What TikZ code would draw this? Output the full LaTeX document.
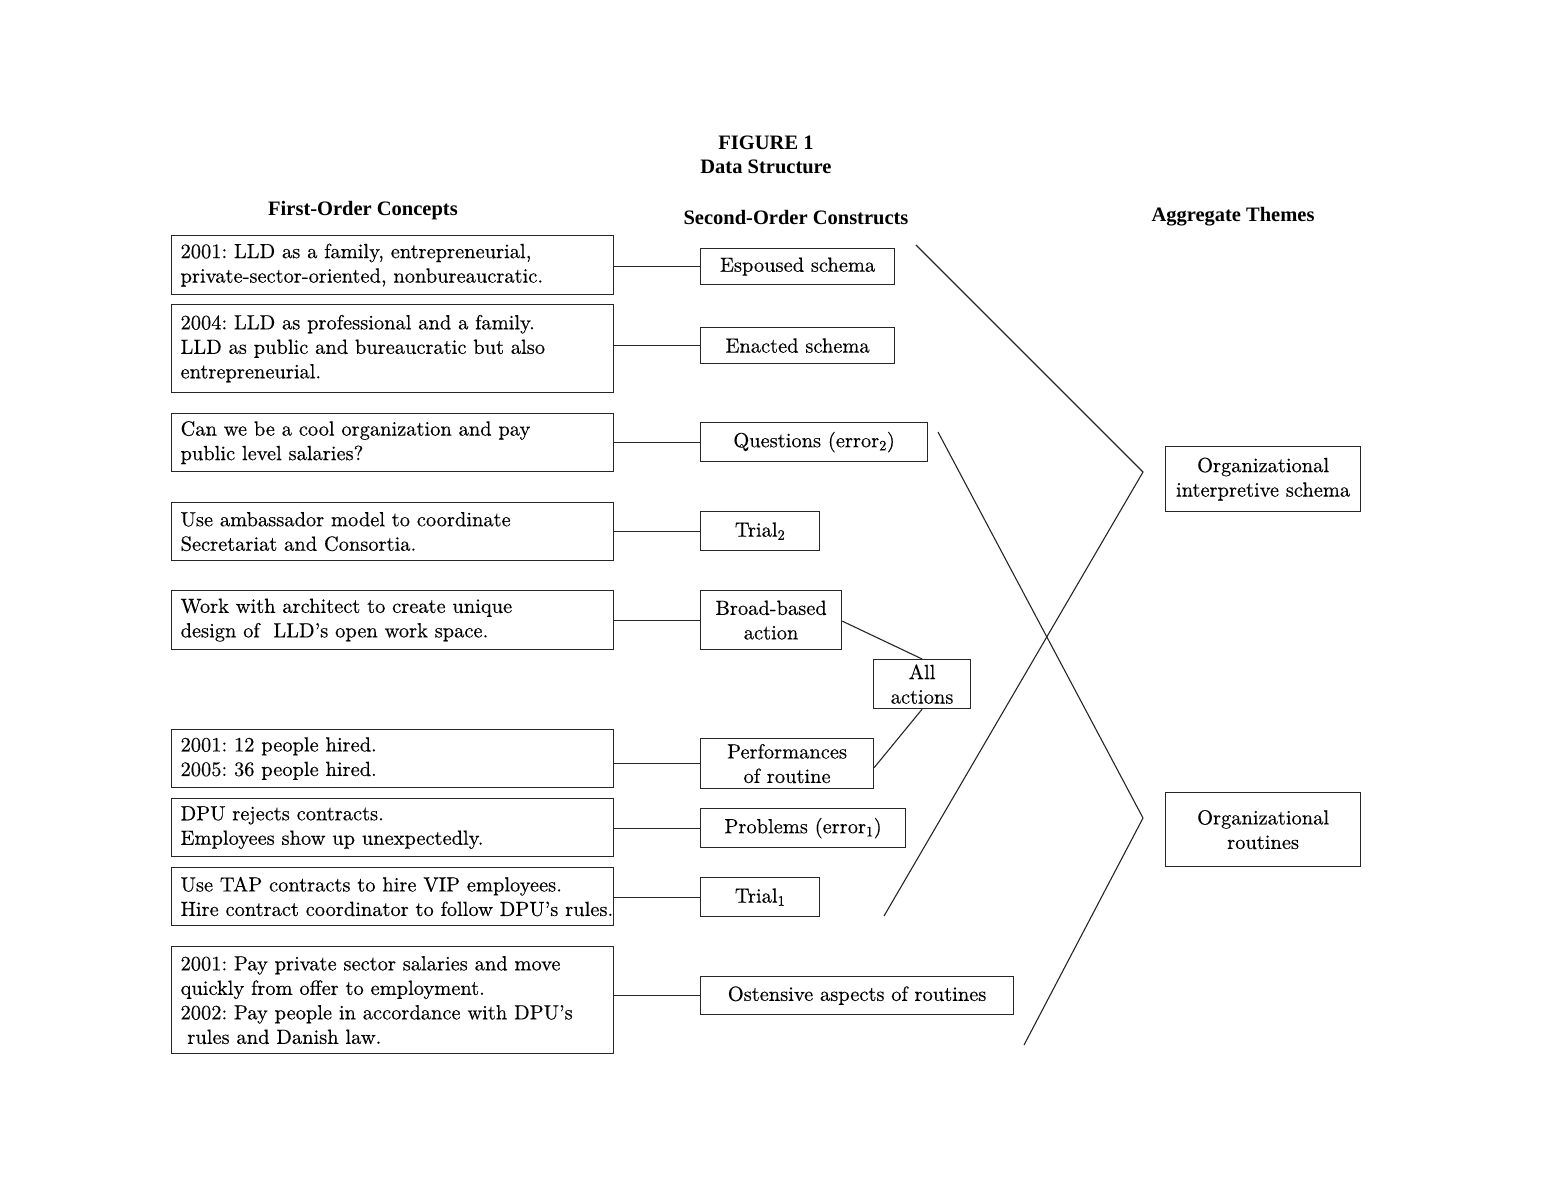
\documentclass[tikz,border=0pt]{standalone}
\usepackage{fontspec}
\newfontfamily\headfont{Liberation Serif}
\newfontfamily\bodyfont{lmroman10}[Extension=.otf,UprightFont=*-regular,
  Ligatures=TeX,FakeStretch=0.998,FakeBold=0.3]
\frenchspacing
\begin{document}
\begin{tikzpicture}[x=1pt,y=-1pt,
  every node/.style={font=\bodyfont\fontsize{20.5}{24.5}\selectfont},
  ink/.style={draw=black!85,line width=1.2pt},
  head/.style={font=\headfont\bfseries\fontsize{20.5}{24}\selectfont,align=center},
  concept/.style={ink,rectangle,anchor=north west,align=left,text width=424pt,
    inner xsep=9pt,inner ysep=0pt,minimum height=#1},
  construct/.style={ink,rectangle,anchor=north west,align=center,inner sep=0pt},
  theme/.style={ink,rectangle,anchor=north west,align=center,inner sep=0pt,
    minimum width=195pt},
  link/.style={draw=black!85,line width=1.1pt}]
\useasboundingbox (0,0) rectangle (1548,1188);

% headings
\node[head] (title) at (766,155) {FIGURE 1\\Data Structure};
\node[head] (h1) at (363,211) {First-Order Concepts};
\node[head] (h2) at (796,218) {Second-Order Constructs};
\node[head] (h3) at (1233,217) {Aggregate Themes};

% first-order concepts
\node[concept=59pt] (c1) at (171,235) {2001: LLD as a family, entrepreneurial,\\private-sector-oriented, nonbureaucratic.};
\node[concept=88pt] (c2) at (171,304) {2004: LLD as professional and a family.\\LLD as public and bureaucratic but also\\entrepreneurial.};
\node[concept=58pt] (c3) at (171,413) {Can we be a cool organization and pay\\public level salaries?};
\node[concept=58pt] (c4) at (171,502) {Use ambassador model to coordinate\\Secretariat and Consortia.};
\node[concept=59pt] (c5) at (171,590) {Work with architect to create unique\\design of\ \ LLD's open work space.};
\node[concept=58pt] (c6) at (171,729) {2001: 12 people hired.\\2005: 36 people hired.};
\node[concept=58pt] (c7) at (171,798) {DPU rejects contracts.\\Employees show up unexpectedly.};
\node[concept=58pt] (c8) at (171,867) {\mbox{Use TAP contracts to hire VIP employees.}\\\mbox{Hire contract coordinator to follow DPU's rules.}};
\node[concept=107pt] (c9) at (171,946) {2001: Pay private sector salaries and move\\quickly from offer to employment.\\\mbox{2002: Pay people in accordance with DPU's}\\\ rules and Danish law.};

% second-order constructs
\node[construct,minimum width=194pt,minimum height=36pt] (s1) at (700,248) {Espoused schema};
\node[construct,minimum width=194pt,minimum height=36pt] (s2) at (700,327) {Enacted schema};
\node[construct,minimum width=227pt,minimum height=39pt] (s3) at (700,422) {Questions (error\textsubscript{2})};
\node[construct,minimum width=119pt,minimum height=39pt] (s4) at (700,511) {Trial\textsubscript{2}};
\node[construct,minimum width=141pt,minimum height=59pt] (s5) at (700,590) {Broad-based\\action};
\node[construct,minimum width=97pt,minimum height=49pt] (s6) at (873,659) {All\\actions};
\node[construct,minimum width=173pt,minimum height=50pt] (s7) at (700,738) {Performances\\of routine};
\node[construct,minimum width=205pt,minimum height=39pt] (s8) at (700,808) {Problems (error\textsubscript{1})};
\node[construct,minimum width=119pt,minimum height=39pt] (s9) at (700,877) {Trial\textsubscript{1}};
\node[construct,minimum width=313pt,minimum height=38pt] (s10) at (700,976) {Ostensive aspects of routines};

% aggregate themes
\node[theme,minimum height=65pt] (t1) at (1165,446) {Organizational\\interpretive schema};
\node[theme,minimum height=74pt] (t2) at (1165,792) {Organizational\\routines};

% concept-to-construct links
\foreach \c/\s in {c1/s1,c2/s2,c3/s3,c4/s4,c5/s5,c6/s7,c7/s8,c8/s9,c9/s10}
  \draw[link] (\s.west) -- (\s.west -| \c.east);

% actions grouping
\draw[link] ([yshift=-1pt]s5.east) -- (s6.north);
\draw[link] ([yshift=-4pt]s7.east) -- (s6.south);

% brackets gathering constructs into themes
\coordinate (b1top) at (916,245);
\coordinate (b1tip) at (1143,472);
\coordinate (b1bot) at (884,916);
\coordinate (b2top) at (938,432);
\coordinate (b2tip) at (1143,818);
\coordinate (b2bot) at (1024,1045);
\draw[link] (b1top) -- (b1tip) -- (b1bot);
\draw[link] (b2top) -- (b2tip) -- (b2bot);
\end{tikzpicture}
\end{document}
